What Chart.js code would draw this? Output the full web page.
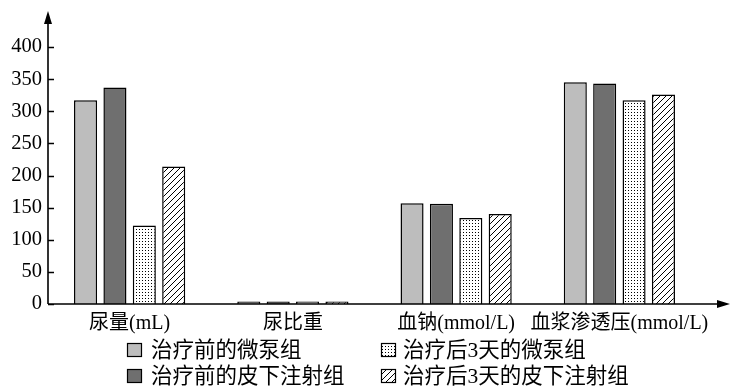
<!DOCTYPE html>
<html>
<head>
<meta charset="utf-8">
<script src="https://cdn.jsdelivr.net/npm/chart.js@4"></script>
<style>
html,body{margin:0;padding:0;background:#fff;}
#wrap{width:734px;height:386px;position:relative;}
</style>
</head>
<body>
<div id="wrap"><canvas id="c" width="734" height="386"></canvas></div>
<script>
const categories = ['尿量(mL)', '尿比重', '血钠(mmol/L)', '血浆渗透压(mmol/L)'];
const seriesNames = ['治疗前的微泵组', '治疗前的皮下注射组', '治疗后3天的微泵组', '治疗后3天的皮下注射组'];
const pumpBefore = [317, 4, 157, 345];
const subqBefore = [337, 4, 156, 343];
const pumpAfter = [122, 4, 134, 317];
const subqAfter = [214, 4, 140, 326];
const yTicks = [0, 50, 100, 150, 200, 250, 300, 350, 400];

const FONT = "'Liberation Serif','Noto Sans CJK SC',serif";

function dotPattern() {
  const c = document.createElement('canvas');
  c.width = 3; c.height = 3;
  const g = c.getContext('2d');
  g.fillStyle = '#fff'; g.fillRect(0, 0, 3, 3);
  g.fillStyle = '#000'; g.fillRect(1, 1, 1, 1);
  return g.createPattern(c, 'repeat');
}
function hatchPattern() {
  const s = 6;
  const c = document.createElement('canvas');
  c.width = s; c.height = s;
  const g = c.getContext('2d');
  g.fillStyle = '#fff'; g.fillRect(0, 0, s, s);
  g.strokeStyle = '#000'; g.lineWidth = 1;
  g.beginPath();
  g.moveTo(0, s); g.lineTo(s, 0);
  g.moveTo(-1, 1); g.lineTo(1, -1);
  g.moveTo(s - 1, s + 1); g.lineTo(s + 1, s - 1);
  g.stroke();
  return g.createPattern(c, 'repeat');
}

const fills = ['#bdbdbd', '#6f6f6f', dotPattern(), hatchPattern()];
const values = [pumpBefore, subqBefore, pumpAfter, subqAfter];

const axesPlugin = {
  id: 'axesArrows',
  afterDatasetsDraw(chart) {
    const ctx = chart.ctx, a = chart.chartArea, y = chart.scales.y;
    ctx.save();
    ctx.strokeStyle = '#000'; ctx.fillStyle = '#000'; ctx.lineWidth = 1.6;
    const x0 = a.left, y0 = a.bottom;
    ctx.beginPath();
    ctx.moveTo(x0, y0); ctx.lineTo(x0, 20);
    ctx.moveTo(x0, y0); ctx.lineTo(724, y0);
    yTicks.forEach(v => {
      const py = Math.round(y.getPixelForValue(v)) + 0.5;
      ctx.moveTo(x0, py); ctx.lineTo(x0 + 6, py);
    });
    ctx.stroke();
    ctx.beginPath();
    ctx.moveTo(x0, 11); ctx.lineTo(x0 - 4, 24); ctx.lineTo(x0 + 4, 24); ctx.closePath(); ctx.fill();
    ctx.beginPath();
    ctx.moveTo(730, y0); ctx.lineTo(717, y0 - 4); ctx.lineTo(717, y0 + 4); ctx.closePath(); ctx.fill();
    ctx.restore();
  }
};

const legendPlugin = {
  id: 'customLegend',
  afterDraw(chart) {
    const ctx = chart.ctx;
    const layout = [[0, 127, 151, 350], [2, 381, 403, 350], [1, 127, 151, 376], [3, 381, 403, 376]];
    ctx.save();
    ctx.font = '21.5px ' + FONT;
    ctx.textBaseline = 'middle';
    layout.forEach(([i, bx, tx, yc]) => {
      const ds = chart.data.datasets[i];
      ctx.fillStyle = ds.backgroundColor;
      ctx.fillRect(bx, yc - 7, 15, 14);
      ctx.strokeStyle = '#000'; ctx.lineWidth = 1.2;
      ctx.strokeRect(bx + 0.5, yc - 6.5, 14, 13);
      ctx.fillStyle = '#000';
      ctx.fillText(ds.label, tx, yc + 1);
    });
    ctx.restore();
  }
};

new Chart(document.getElementById('c'), {
  type: 'bar',
  data: {
    labels: categories,
    datasets: seriesNames.map((n, i) => ({
      label: n,
      data: values[i],
      backgroundColor: fills[i],
      borderColor: '#000',
      borderWidth: 1.5,
      borderSkipped: 'bottom',
      categoryPercentage: 0.72,
      barPercentage: 0.785
    }))
  },
  options: {
    responsive: false,
    animation: false,
    devicePixelRatio: 1,
    layout: { padding: { left: 0, right: 33, top: 47, bottom: 0 } },
    plugins: { legend: { display: false }, tooltip: { enabled: false } },
    scales: {
      x: {
        grid: { display: false, drawTicks: false },
        border: { display: false },
        ticks: { color: '#000', font: { family: FONT, size: 20 }, padding: 8, maxRotation: 0, autoSkip: false },
        afterFit(s) { s.height = 82; }
      },
      y: {
        min: 0, max: 400,
        grid: { display: false, drawTicks: false },
        border: { display: false },
        ticks: { color: '#000', stepSize: 50, font: { family: FONT, size: 20.5 }, padding: 6, autoSkip: false },
        afterFit(s) { s.width = 48; }
      }
    }
  },
  plugins: [axesPlugin, legendPlugin]
});
</script>
</body>
</html>
